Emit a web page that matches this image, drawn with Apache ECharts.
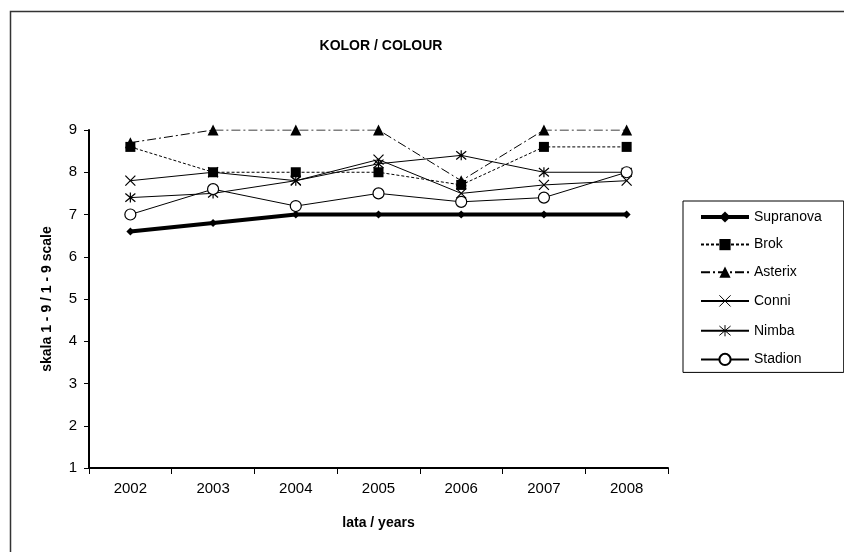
<!DOCTYPE html>
<html>
<head>
<meta charset="utf-8">
<script src="https://cdn.jsdelivr.net/npm/echarts@6/dist/echarts.min.js"></script>
<style>
html,body{margin:0;padding:0;background:#fff;}
#chart{width:844px;height:552px;}
</style>
</head>
<body>
<div id="chart"></div>
<script>
var years = ['2002','2003','2004','2005','2006','2007','2008'];
var supranova = [6.6, 6.8, 7.0, 7.0, 7.0, 7.0, 7.0];
var brok      = [8.6, 8.0, 8.0, 8.0, 7.7, 8.6, 8.6];
var asterix   = [8.7, 9.0, 9.0, 9.0, 7.8, 9.0, 9.0];
var conni     = [7.8, 8.0, 7.8, 8.3, 7.5, 7.7, 7.8];
var nimba     = [7.4, 7.5, 7.8, 8.2, 8.4, 8.0, 8.0];
var stadion   = [7.0, 7.6, 7.2, 7.5, 7.3, 7.4, 8.0];

var FONT = 'Arial, "Liberation Sans", sans-serif';
var chart = echarts.init(document.getElementById('chart'), null, {renderer:'canvas'});

function mk(name, data, lineStyle, symbol, size, itemStyle) {
  return {
    name: name, type: 'line', data: data,
    symbol: symbol, symbolSize: size,
    lineStyle: Object.assign({color:'#000'}, lineStyle),
    itemStyle: Object.assign({color:'#000'}, itemStyle || {}),
    emphasis: {disabled: true},
    animation: false
  };
}

var option = {
  backgroundColor: '#fff',
  animation: false,
  graphic: [{
    type: 'rect', shape: {x: 10.5, y: 11.5, width: 900, height: 600},
    style: {fill: 'none', stroke: '#333', lineWidth: 1.5}, silent: true
  }],
  title: {
    text: 'KOLOR / COLOUR', left: 376, top: 34, textAlign: 'center',
    textStyle: {fontFamily: FONT, fontSize: 14, fontWeight: 'bold', color: '#000'}
  },
  grid: {left: 89, right: 176, top: 130, bottom: 84},
  legend: {
    orient: 'vertical', left: 683, top: 201,
    itemWidth: 48, itemHeight: 14, itemGap: 13.6,
    padding: [9, 22, 6, 16],
    borderColor: '#000', borderWidth: 1,
    textStyle: {fontFamily: FONT, fontSize: 14, color: '#000'},
    data: [
      {name: 'Supranova', lineStyle: {width: 4}},
      'Brok', 'Asterix',
      {name: 'Conni', itemStyle: {borderWidth: 1}},
      {name: 'Nimba', itemStyle: {borderWidth: 1}},
      'Stadion'
    ]
  },
  xAxis: {
    type: 'category', data: years, boundaryGap: true,
    name: 'lata / years', nameLocation: 'middle', nameGap: 48, nameMoveOverlap: false,
    nameTextStyle: {fontFamily: FONT, fontSize: 14, fontWeight: 'bold', color: '#000'},
    axisLine: {lineStyle: {color: '#000', width: 2}},
    axisTick: {show: true, inside: false, length: 6, interval: 0, lineStyle: {color: '#000', width: 1}},
    axisLabel: {fontFamily: FONT, fontSize: 15, color: '#000', margin: 13, interval: 0},
    splitLine: {show: false}
  },
  yAxis: {
    type: 'value', min: 1, max: 9, interval: 1,
    name: 'skala 1 - 9 / 1 - 9 scale', nameLocation: 'middle', nameGap: 35, nameRotate: 90, nameMoveOverlap: false,
    nameTextStyle: {fontFamily: FONT, fontSize: 14, fontWeight: 'bold', color: '#000'},
    axisLine: {show: true, lineStyle: {color: '#000', width: 2}},
    axisTick: {show: true, inside: false, length: 5, lineStyle: {color: '#000', width: 1}},
    axisLabel: {fontFamily: FONT, fontSize: 15, color: '#000', margin: 12},
    splitLine: {show: false}
  },
  series: [
    mk('Supranova', supranova, {width: 4, type: 'solid'}, 'diamond', 8),
    mk('Brok', brok, {width: 1, type: [3, 2]}, 'rect', 10),
    mk('Asterix', asterix, {width: 1, type: [9, 3, 2, 3]}, 'triangle', 11),
    mk('Conni', conni, {width: 1, type: 'solid'}, 'path://M0,0L10,10M10,0L0,10', 10,
       {color: 'none', borderColor: '#000', borderWidth: 1.2}),
    mk('Nimba', nimba, {width: 1, type: 'solid'}, 'path://M0,0L10,10M10,0L0,10M5,-1L5,11', 10,
       {color: 'none', borderColor: '#000', borderWidth: 1.2}),
    mk('Stadion', stadion, {width: 1, type: 'solid'}, 'circle', 11,
       {color: '#fff', borderColor: '#000', borderWidth: 1.2})
  ]
};
chart.setOption(option);
</script>
</body>
</html>
